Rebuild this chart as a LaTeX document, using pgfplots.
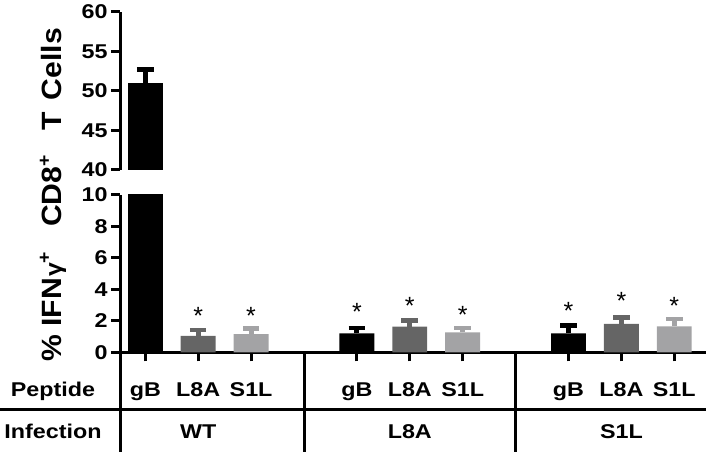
\documentclass[border=0pt]{standalone}
\usepackage{pgfplots}
\pgfplotsset{compat=1.18}
\usepackage{fontspec}
\setmainfont[FakeStretch=1.17]{Liberation Sans}
\newfontfamily\labfont{Liberation Sans}
\definecolor{dg}{HTML}{656565}
\definecolor{lg}{HTML}{A3A3A5}
\pgfplotsset{
  common/.style={
    scale only axis, width=586bp, xmin=0.522, xmax=11.6,
    axis line style={line width=3bp,-},
    tick style={line width=3bp,black},
    tick align=outside,
    major tick length=9bp,
    /pgf/number format/assume math mode=true,
    tick label style={font=\bfseries\fontsize{20}{24}\selectfont},
  },
  barsty/.style={ybar, bar width=0.66, bar shift=0pt, draw=none, fill=#1,
    error bars/.cd, y dir=plus, y explicit,
    error bar style={draw=#1, line width=5bp},
    error mark options={draw=#1, line width=4.5bp, mark size=8.3bp, rotate=90}},
}
\begin{document}
\begin{tikzpicture}
\path[use as bounding box] (0bp,0bp) rectangle (706bp,452bp);
% bottom segment
\begin{axis}[common, at={(120bp,99.7bp)}, anchor=south west, height=157.3bp,
  ymin=0, ymax=10, ytick={0,2,4,6,8,10},
  axis x line*=bottom, axis y line*=left,
  xtick={1,2,3,5,6,7,9,10,11}, xticklabels={}]
\addplot[ybar, bar width=0.66, bar shift=0pt, draw=none, fill=black] coordinates {(1,51)};
\addplot[barsty=black] coordinates {(5,1.21) +- (0,0.35) (9,1.21) +- (0,0.48)};
\addplot[barsty=dg] coordinates {(2,1.04) +- (0,0.38) (6,1.63) +- (0,0.40) (10,1.80) +- (0,0.42)};
\addplot[barsty=lg] coordinates {(3,1.15) +- (0,0.36) (7,1.27) +- (0,0.27) (11,1.65) +- (0,0.46)};
\foreach \xx/\yy in {2/2.64,3/2.64,5/2.90,6/3.28,7/2.69,9/3.0,10/3.58,11/3.28}{
  \edef\tmp{\noexpand\node[anchor=base, yshift=-13.9bp, inner sep=0pt, font=\noexpand\labfont\noexpand\fontsize{25}{27}\noexpand\selectfont] at (axis cs:\xx,\yy) {*};}\tmp
}
\end{axis}
% top segment
\begin{axis}[common, at={(120bp,282bp)}, anchor=south west, height=158bp,
  ymin=40, ymax=60, ytick={40,45,50,55,60},
  axis x line=none, axis y line*=left]
\addplot[barsty=black] coordinates {(1,51.0) +- (0,1.7)};
\end{axis}
% table lines
\draw[line width=3bp] (120bp,99.7bp) -- (120bp,0bp);
\draw[line width=3bp] (304bp,99.7bp) -- (304bp,0bp);
\draw[line width=3bp] (515.6bp,99.7bp) -- (515.6bp,0bp);
\draw[line width=3bp] (0bp,42.7bp) -- (706bp,42.7bp);
\begin{scope}[every node/.style={anchor=base, inner sep=0pt, font=\bfseries\fontsize{20}{24}\selectfont}]
\node at (53bp,55.3bp) {Peptide};
\node at (53bp,14bp) {Infection};
\foreach \px/\lab in {145.3/gB,198.2/L8A,251.1/S1L,356.9/gB,409.8/L8A,462.7/S1L,568.5/gB,621.4/L8A,674.3/S1L}{
  \node at (\px bp,55.3bp) {\lab};
}
\node at (198.2bp,14bp) {WT};
\node at (409.8bp,14bp) {L8A};
\node at (621.4bp,14bp) {S1L};
\end{scope}
\node[rotate=90, inner sep=0pt, font=\labfont\bfseries\fontsize{28}{30}\selectfont] at (53bp,257bp)
  {\scalebox{1.08}[1]{\%\hspace{8bp}IFN\hspace{1bp}{\fontsize{23}{24}\selectfont γ}\raisebox{11bp}{\fontsize{18}{20}\selectfont +}\hspace{23bp}CD8\raisebox{11bp}{\fontsize{18}{20}\selectfont +}\hspace{23bp}T\hspace{11bp}Cells}};
\end{tikzpicture}
\end{document}
